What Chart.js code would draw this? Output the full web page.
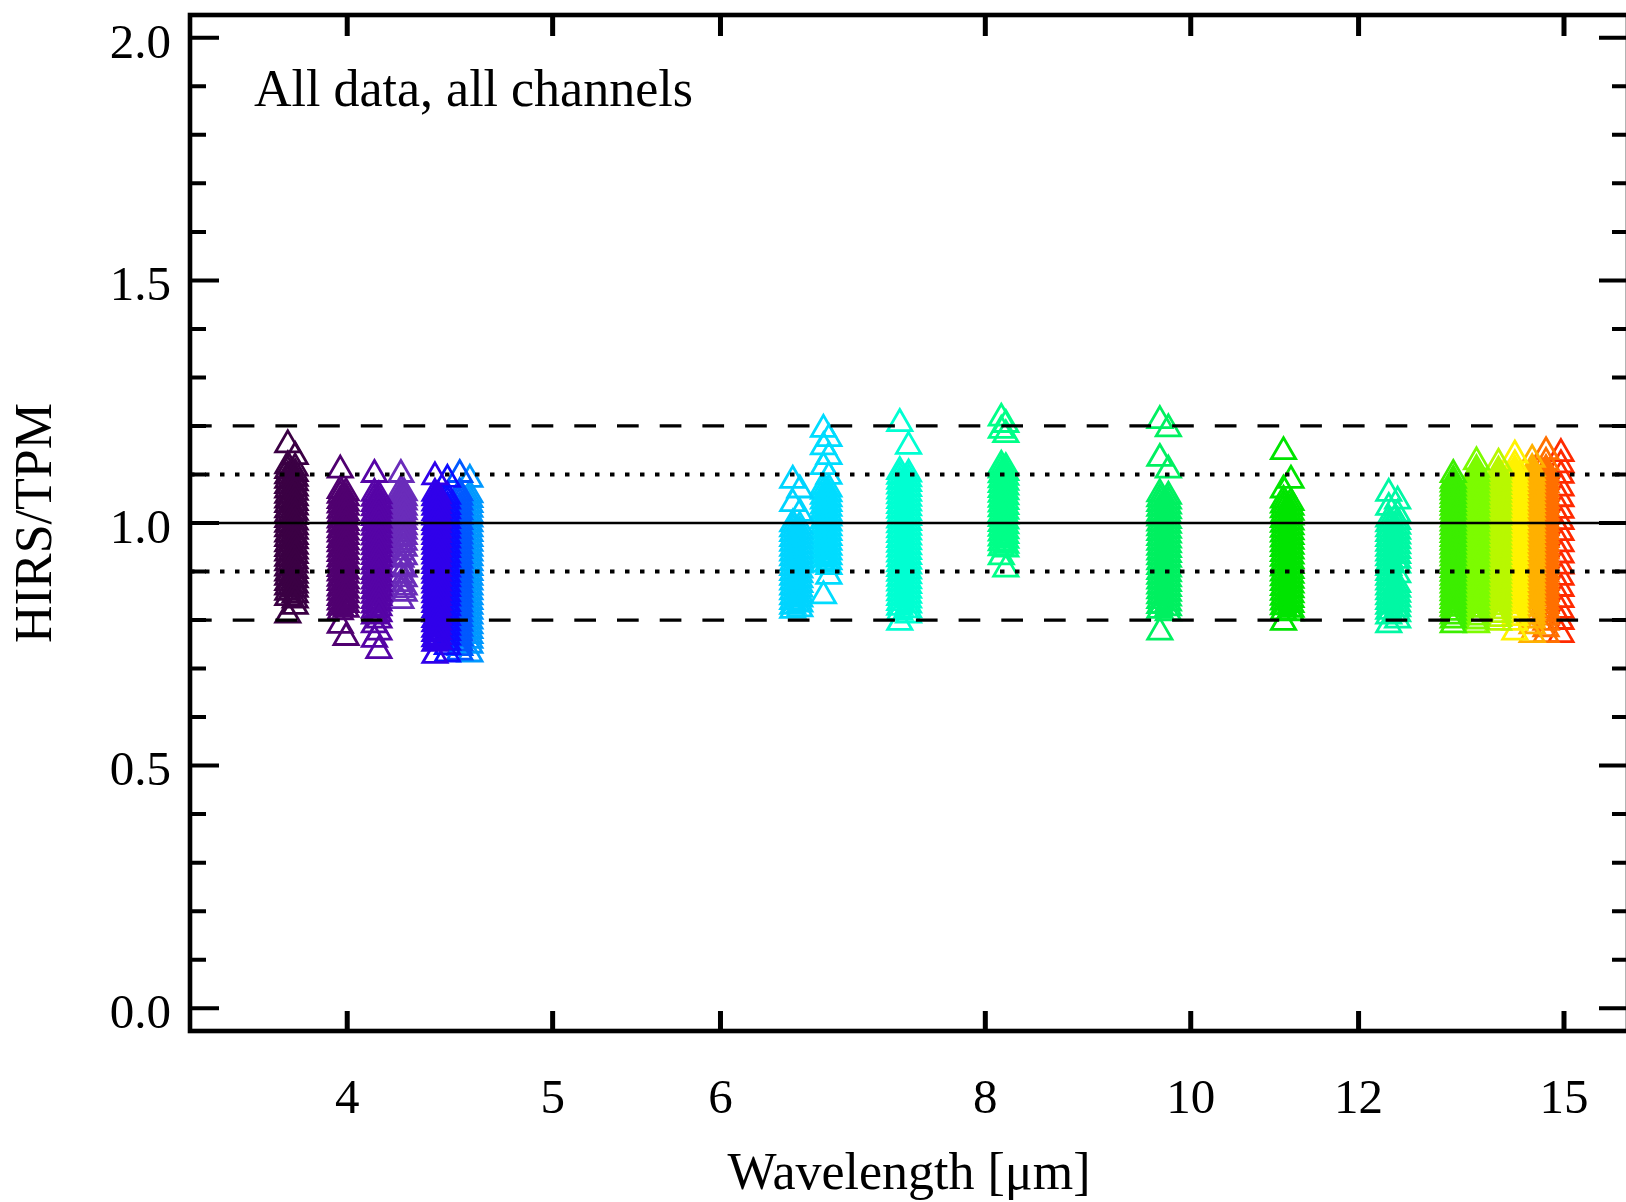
<!DOCTYPE html>
<html>
<head>
<meta charset="utf-8">
<title>HIRS/TPM</title>
<script src="https://cdn.jsdelivr.net/npm/chart.js@4.4.1/dist/chart.umd.min.js"></script>
<style>
    html, body { margin: 0; padding: 0; background: #fff; overflow: hidden; }
    #wrap { width: 1640px; height: 1202px; }
</style>
</head>
<body>
<div id="wrap"><canvas id="ratioChart" width="1640" height="1202"></canvas></div>
<script>
// axis setup
const xTicks = [4, 5, 6, 8, 10, 12, 15];
const yTicks = [0.0, 0.1, 0.2, 0.3, 0.4, 0.5, 0.6, 0.7, 0.8, 0.9, 1.0,
                1.1, 1.2, 1.3, 1.4, 1.5, 1.6, 1.7, 1.8, 1.9, 2.0];
const yLabels = [0.0, 0.5, 1.0, 1.5, 2.0];
const xRange = [3.372, 16.08];
const yRange = [-0.047, 2.047];

// reference levels: solid at 1, dotted at +-10%, dashed at +-20%
const solidLevels = [1.0];
const dottedLevels = [0.9, 1.1];
const dashedLevels = [0.8, 1.2];

// HIRS/TPM ratios per channel, as [wavelength, ratios] sub-columns
const ch19 = [
    [3.75, [1.161, 1.118, 1.108, 1.097, 1.088, 1.077, 1.068, 1.057, 1.047, 1.038, 1.027, 1.018, 1.007, 0.997, 0.988, 0.977, 0.968, 0.957, 0.947, 0.938, 0.927, 0.918, 0.907, 0.897, 0.888, 0.877, 0.868, 0.857, 0.846, 0.81]],
    [3.78, [1.137, 1.113, 1.102, 1.092, 1.083, 1.072, 1.063, 1.052, 1.042, 1.033, 1.022, 1.013, 1.002, 0.992, 0.983, 0.972, 0.963, 0.952, 0.942, 0.933, 0.922, 0.913, 0.902, 0.892, 0.883, 0.872, 0.863, 0.852, 0.841, 0.828]]
];
const ch18a = [
    [3.97, [1.109, 1.067, 1.057, 1.046, 1.037, 1.026, 1.017, 1.006, 0.997, 0.986, 0.977, 0.966, 0.957, 0.946, 0.937, 0.926, 0.917, 0.906, 0.897, 0.886, 0.877, 0.866, 0.857, 0.846, 0.837, 0.826, 0.817, 0.789]],
    [3.995, [1.062, 1.052, 1.041, 1.032, 1.021, 1.012, 1.001, 0.992, 0.981, 0.972, 0.961, 0.952, 0.941, 0.932, 0.921, 0.912, 0.901, 0.892, 0.881, 0.872, 0.861, 0.852, 0.841, 0.832, 0.822, 0.764]]
];
const ch18b = [
    [4.12, [1.10, 1.061, 1.051, 1.04, 1.031, 1.02, 1.011, 1.0, 0.991, 0.98, 0.971, 0.96, 0.951, 0.94, 0.931, 0.92, 0.911, 0.90, 0.891, 0.88, 0.871, 0.86, 0.851, 0.84, 0.831, 0.82, 0.808, 0.79, 0.76]],
    [4.14, [1.056, 1.046, 1.035, 1.026, 1.015, 1.006, 0.995, 0.986, 0.975, 0.966, 0.955, 0.946, 0.935, 0.926, 0.915, 0.906, 0.895, 0.886, 0.875, 0.866, 0.855, 0.846, 0.835, 0.825, 0.813, 0.80, 0.775, 0.737]]
];
const ch17 = [
    [4.24, [1.10, 1.068, 1.058, 1.047, 1.038, 1.027, 1.018, 1.007, 0.998, 0.987, 0.978, 0.967, 0.955, 0.94, 0.925, 0.91, 0.892, 0.875, 0.862, 0.84]],
    [4.255, [1.062, 1.052, 1.043, 1.032, 1.023, 1.012, 1.003, 0.992, 0.983, 0.972, 0.96, 0.948, 0.93, 0.905, 0.885, 0.868, 0.855]]
];
const ch16 = [
    [4.40, [1.095, 1.061, 1.052, 1.041, 1.032, 1.021, 1.012, 1.001, 0.992, 0.981, 0.972, 0.961, 0.952, 0.941, 0.932, 0.921, 0.912, 0.901, 0.892, 0.881, 0.872, 0.861, 0.852, 0.841, 0.832, 0.821, 0.812, 0.801, 0.792, 0.781, 0.772, 0.761, 0.752, 0.727]],
    [4.415, [1.056, 1.046, 1.036, 1.026, 1.016, 1.006, 0.996, 0.986, 0.976, 0.966, 0.956, 0.946, 0.936, 0.926, 0.916, 0.906, 0.896, 0.886, 0.876, 0.866, 0.856, 0.846, 0.836, 0.826, 0.816, 0.806, 0.796, 0.786, 0.776, 0.766, 0.756]]
];
const ch15 = [
    [4.46, [1.09, 1.055, 1.045, 1.034, 1.025, 1.014, 1.005, 0.994, 0.985, 0.974, 0.965, 0.954, 0.945, 0.934, 0.925, 0.914, 0.905, 0.894, 0.885, 0.874, 0.865, 0.854, 0.845, 0.834, 0.825, 0.814, 0.805, 0.794, 0.785, 0.774, 0.765, 0.754, 0.745, 0.73]]
];
const ch14 = [
    [4.52, [1.10, 1.062, 1.053, 1.043, 1.033, 1.023, 1.013, 1.003, 0.993, 0.983, 0.973, 0.963, 0.953, 0.943, 0.933, 0.923, 0.913, 0.903, 0.893, 0.883, 0.873, 0.863, 0.853, 0.843, 0.833, 0.823, 0.813, 0.803, 0.793, 0.783, 0.773, 0.763, 0.753, 0.743, 0.734]]
];
const ch13 = [
    [4.57, [1.09, 1.058, 1.048, 1.038, 1.028, 1.018, 1.008, 0.998, 0.988, 0.978, 0.968, 0.958, 0.948, 0.938, 0.928, 0.918, 0.908, 0.898, 0.888, 0.878, 0.868, 0.858, 0.848, 0.838, 0.828, 0.818, 0.808, 0.798, 0.788, 0.778, 0.768, 0.758, 0.748, 0.73]]
];
const ch12a = [
    [6.49, [1.088, 1.04, 0.998, 0.988, 0.978, 0.968, 0.958, 0.948, 0.938, 0.928, 0.918, 0.908, 0.898, 0.888, 0.878, 0.868, 0.858, 0.848, 0.838, 0.828, 0.82]],
    [6.54, [1.068, 1.02, 0.993, 0.983, 0.973, 0.963, 0.953, 0.943, 0.933, 0.923, 0.913, 0.903, 0.893, 0.883, 0.873, 0.863, 0.853, 0.843, 0.833, 0.823]]
];
const ch12b = [
    [6.71, [1.193, 1.157, 1.116, 1.075, 1.065, 1.055, 1.045, 1.035, 1.025, 1.015, 1.005, 0.995, 0.985, 0.975, 0.965, 0.955, 0.945, 0.935, 0.925, 0.915, 0.85]],
    [6.75, [1.174, 1.137, 1.096, 1.07, 1.06, 1.05, 1.04, 1.03, 1.02, 1.01, 1.0, 0.99, 0.98, 0.97, 0.96, 0.95, 0.94, 0.93, 0.92, 0.91, 0.89]]
];
const ch11 = [
    [7.29, [1.205, 1.106, 1.096, 1.086, 1.076, 1.066, 1.056, 1.046, 1.036, 1.026, 1.016, 1.006, 0.996, 0.986, 0.976, 0.966, 0.956, 0.946, 0.936, 0.926, 0.916, 0.906, 0.896, 0.886, 0.876, 0.866, 0.856, 0.846, 0.836, 0.826, 0.816, 0.795]],
    [7.36, [1.158, 1.101, 1.091, 1.081, 1.071, 1.061, 1.051, 1.041, 1.031, 1.021, 1.011, 1.001, 0.991, 0.981, 0.971, 0.961, 0.951, 0.941, 0.931, 0.921, 0.911, 0.901, 0.891, 0.881, 0.871, 0.861, 0.851, 0.841, 0.831, 0.821, 0.81]]
];
const ch10a = [
    [8.14, [1.216, 1.191, 1.119, 1.109, 1.099, 1.089, 1.079, 1.069, 1.059, 1.049, 1.039, 1.029, 1.019, 1.009, 0.999, 0.989, 0.979, 0.969, 0.959, 0.949, 0.93]],
    [8.18, [1.203, 1.182, 1.114, 1.104, 1.094, 1.084, 1.074, 1.064, 1.054, 1.044, 1.034, 1.024, 1.014, 1.004, 0.994, 0.984, 0.974, 0.964, 0.954, 0.946, 0.905]]
];
const ch9 = [
    [9.67, [1.211, 1.133, 1.06, 1.05, 1.04, 1.03, 1.02, 1.01, 1.0, 0.99, 0.98, 0.97, 0.96, 0.95, 0.94, 0.93, 0.92, 0.91, 0.90, 0.89, 0.88, 0.87, 0.86, 0.85, 0.84, 0.83, 0.82, 0.775]],
    [9.76, [1.194, 1.109, 1.055, 1.045, 1.035, 1.025, 1.015, 1.005, 0.995, 0.985, 0.975, 0.965, 0.955, 0.945, 0.935, 0.925, 0.915, 0.905, 0.895, 0.885, 0.875, 0.865, 0.855, 0.845, 0.835, 0.825, 0.815]]
];
const ch8 = [
    [11.06, [1.147, 1.068, 1.047, 1.037, 1.027, 1.017, 1.007, 0.997, 0.987, 0.977, 0.967, 0.957, 0.947, 0.937, 0.927, 0.917, 0.907, 0.897, 0.887, 0.877, 0.867, 0.857, 0.847, 0.837, 0.827, 0.817, 0.795]],
    [11.15, [1.088, 1.042, 1.032, 1.022, 1.012, 1.002, 0.992, 0.982, 0.972, 0.962, 0.952, 0.942, 0.932, 0.922, 0.912, 0.902, 0.892, 0.882, 0.872, 0.862, 0.852, 0.842, 0.832, 0.822, 0.815]]
];
const ch10b = [
    [12.40, [1.061, 1.032, 1.008, 0.998, 0.988, 0.978, 0.968, 0.958, 0.948, 0.938, 0.928, 0.918, 0.908, 0.898, 0.888, 0.878, 0.868, 0.858, 0.848, 0.838, 0.828, 0.818, 0.808, 0.79]],
    [12.52, [1.045, 1.018, 1.003, 0.993, 0.983, 0.973, 0.963, 0.953, 0.943, 0.933, 0.923, 0.913, 0.893, 0.873, 0.863, 0.853, 0.843, 0.833, 0.823, 0.813, 0.80]]
];
const ch7 = [
    [13.3, [1.10, 1.088, 1.08, 1.072, 1.064, 1.056, 1.048, 1.04, 1.032, 1.024, 1.016, 1.008, 1.0, 0.992, 0.984, 0.976, 0.968, 0.96, 0.952, 0.944, 0.936, 0.928, 0.92, 0.912, 0.904, 0.896, 0.888, 0.88, 0.872, 0.864, 0.856, 0.848, 0.84, 0.832, 0.824, 0.816, 0.808, 0.80, 0.79]]
];
const ch6 = [
    [13.64, [1.126, 1.11, 1.102, 1.094, 1.086, 1.078, 1.07, 1.062, 1.054, 1.046, 1.038, 1.03, 1.022, 1.014, 1.006, 0.998, 0.99, 0.982, 0.974, 0.966, 0.958, 0.95, 0.942, 0.934, 0.926, 0.918, 0.91, 0.902, 0.894, 0.886, 0.878, 0.87, 0.862, 0.854, 0.846, 0.838, 0.83, 0.822, 0.814, 0.806, 0.798, 0.79]]
];
const ch5 = [
    [13.97, [1.123, 1.107, 1.099, 1.091, 1.083, 1.075, 1.067, 1.059, 1.051, 1.043, 1.035, 1.027, 1.019, 1.011, 1.003, 0.995, 0.987, 0.979, 0.971, 0.963, 0.955, 0.947, 0.939, 0.931, 0.923, 0.915, 0.907, 0.899, 0.891, 0.883, 0.875, 0.867, 0.859, 0.851, 0.843, 0.835, 0.827, 0.819, 0.811, 0.803, 0.795]]
];
const ch4 = [
    [14.22, [1.14, 1.12, 1.109, 1.101, 1.093, 1.085, 1.077, 1.069, 1.061, 1.053, 1.045, 1.037, 1.029, 1.021, 1.013, 1.005, 0.997, 0.989, 0.981, 0.973, 0.965, 0.957, 0.949, 0.941, 0.933, 0.925, 0.917, 0.909, 0.901, 0.893, 0.885, 0.877, 0.869, 0.861, 0.853, 0.845, 0.837, 0.829, 0.821, 0.813, 0.805, 0.795, 0.775]]
];
const ch3 = [
    [14.49, [1.131, 1.112, 1.104, 1.096, 1.088, 1.08, 1.072, 1.064, 1.056, 1.048, 1.04, 1.032, 1.024, 1.016, 1.008, 1.0, 0.992, 0.984, 0.976, 0.968, 0.96, 0.952, 0.944, 0.936, 0.928, 0.92, 0.912, 0.904, 0.896, 0.888, 0.88, 0.872, 0.864, 0.856, 0.848, 0.84, 0.832, 0.824, 0.816, 0.808, 0.80, 0.788, 0.77]]
];
const ch2 = [
    [14.71, [1.147, 1.125, 1.11, 1.102, 1.094, 1.086, 1.078, 1.07, 1.062, 1.054, 1.046, 1.038, 1.03, 1.022, 1.014, 1.006, 0.998, 0.99, 0.982, 0.974, 0.966, 0.958, 0.95, 0.942, 0.934, 0.926, 0.918, 0.91, 0.902, 0.894, 0.886, 0.878, 0.87, 0.862, 0.854, 0.846, 0.838, 0.83, 0.822, 0.814, 0.806, 0.795, 0.782, 0.77]]
];
const ch1 = [
    [14.95, [1.143, 1.12, 1.098, 1.072, 1.05, 1.026, 1.003, 0.98, 0.957, 0.934, 0.911, 0.888, 0.865, 0.842, 0.82, 0.797, 0.77]]
];

// left to right; earlier entries end up drawn on top
const channels = [ch19, ch18a, ch18b, ch17, ch16, ch15, ch14, ch13, ch12a, ch12b,
                  ch11, ch10a, ch9, ch8, ch10b, ch7, ch6, ch5, ch4, ch3, ch2, ch1];
const channelNames = ['19', '18', '18', '17', '16', '15', '14', '13', '12', '12',
                      '11', '10', '9', '8', '10', '7', '6', '5', '4', '3', '2', '1'];
const channelColors = ['#3b0044', '#500070', '#5604a6', '#6a2cba', '#3000ea', '#0c0cff', '#0058ff', '#0098ff',
                       '#00d4ff', '#00dcff', '#00ffd2', '#00ff88', '#00f060', '#00e400', '#00f8a4',
                       '#3cee00', '#7cfc00', '#b8f800', '#fff200', '#ffb000', '#ff7000', '#ff2a00'];

document.addEventListener('DOMContentLoaded', function () {
    if (typeof Chart === 'undefined') {
        console.error('Chart.js is not loaded.');
        return;
    }

    const serif = '"Liberation Serif", "Times New Roman", serif';
    Chart.defaults.font.family = serif;
    Chart.defaults.color = '#000';

    function refLine(level, dash, width) {
        return {
            type: 'line',
            data: [{ x: xRange[0], y: level }, { x: xRange[1], y: level }],
            borderColor: '#000',
            borderWidth: width,
            borderDash: dash,
            borderCapStyle: 'butt',
            pointRadius: 0,
            fill: false,
            order: 0
        };
    }

    const datasets = [];
    solidLevels.forEach(l => datasets.push(refLine(l, [], 2.6)));
    dottedLevels.forEach(l => datasets.push(refLine(l, [4.5, 10.5], 4)));
    dashedLevels.forEach(l => datasets.push(refLine(l, [21.7, 21], 3.2)));

    channels.forEach((cols, i) => {
        const pts = [];
        cols.forEach(([wl, ratios]) => ratios.forEach(r => pts.push({ x: wl, y: r })));
        datasets.push({
            type: 'scatter',
            label: 'Ch ' + channelNames[i],
            data: pts,
            pointStyle: 'triangle',
            pointRadius: 14,
            borderWidth: 2.8,
            borderColor: channelColors[i],
            backgroundColor: 'rgba(0,0,0,0)',
            order: 1
        });
    });

    // no extra room for edge labels: the plot box is fixed
    function fixBox(size, key) {
        return s => {
            s[key] = size;
            s.paddingLeft = 0; s.paddingRight = 0;
            s.paddingTop = 0; s.paddingBottom = 0;
        };
    }

    // IDL-style frame with inward ticks and the in-plot note
    const framePlugin = {
        id: 'frame',
        afterDraw(chart) {
            const { ctx, chartArea: a, scales: { x, y } } = chart;
            ctx.save();
            ctx.strokeStyle = '#000';
            ctx.lineCap = 'butt';

            ctx.lineWidth = 4;
            y.ticks.forEach(t => {
                const py = y.getPixelForValue(t.value);
                const len = yLabels.includes(t.value) ? 29 : 16;
                ctx.beginPath();
                ctx.moveTo(a.left, py); ctx.lineTo(a.left + len, py);
                ctx.moveTo(a.right, py); ctx.lineTo(a.right - len, py);
                ctx.stroke();
            });
            ctx.lineWidth = 5;
            x.ticks.forEach(t => {
                const px = x.getPixelForValue(t.value);
                ctx.beginPath();
                ctx.moveTo(px, a.bottom); ctx.lineTo(px, a.bottom - 20);
                ctx.moveTo(px, a.top); ctx.lineTo(px, a.top + 21);
                ctx.stroke();
            });

            ctx.lineWidth = 4.6;
            ctx.lineJoin = 'miter';
            ctx.strokeRect(a.left, a.top, a.right - a.left, a.bottom - a.top);

            ctx.fillStyle = '#000';
            ctx.font = '52px ' + serif;
            ctx.textAlign = 'left';
            ctx.textBaseline = 'alphabetic';
            ctx.fillText('All data, all channels', a.left + 64, a.top + 91);
            ctx.restore();
        }
    };

    new Chart(document.getElementById('ratioChart'), {
        data: { datasets: datasets },
        options: {
            responsive: false,
            animation: false,
            devicePixelRatio: 1,
            layout: { autoPadding: false, padding: { left: 0, right: 12, top: 15, bottom: 0 } },
            plugins: {
                legend: { display: false },
                tooltip: { enabled: false }
            },
            scales: {
                x: {
                    type: 'logarithmic',
                    min: xRange[0],
                    max: xRange[1],
                    afterBuildTicks: s => { s.ticks = xTicks.map(v => ({ value: v })); },
                    afterFit: fixBox(171, 'height'),
                    grid: { display: false, drawTicks: false },
                    border: { display: false },
                    ticks: {
                        autoSkip: false,
                        maxRotation: 0,
                        padding: 45,
                        font: { size: 49, lineHeight: 1 },
                        color: '#000',
                        callback: v => String(v)
                    },
                    title: {
                        display: true,
                        text: 'Wavelength [μm]',
                        font: { size: 52, lineHeight: 1 },
                        color: '#000',
                        padding: { top: 0, bottom: 1 }
                    }
                },
                y: {
                    type: 'linear',
                    min: yRange[0],
                    max: yRange[1],
                    afterBuildTicks: s => { s.ticks = yTicks.map(v => ({ value: v })); },
                    afterFit: fixBox(190, 'width'),
                    grid: { display: false, drawTicks: false },
                    border: { display: false },
                    ticks: {
                        autoSkip: false,
                        padding: 19,
                        labelOffset: 7,
                        font: { size: 49, lineHeight: 1 },
                        color: '#000',
                        callback: v => yLabels.includes(v) ? v.toFixed(1) : ''
                    },
                    title: {
                        display: true,
                        text: 'HIRS/TPM',
                        font: { size: 52, lineHeight: 1 },
                        color: '#000',
                        padding: { top: 11, bottom: 0 }
                    }
                }
            }
        },
        plugins: [framePlugin]
    });
});
</script>
</body>
</html>
